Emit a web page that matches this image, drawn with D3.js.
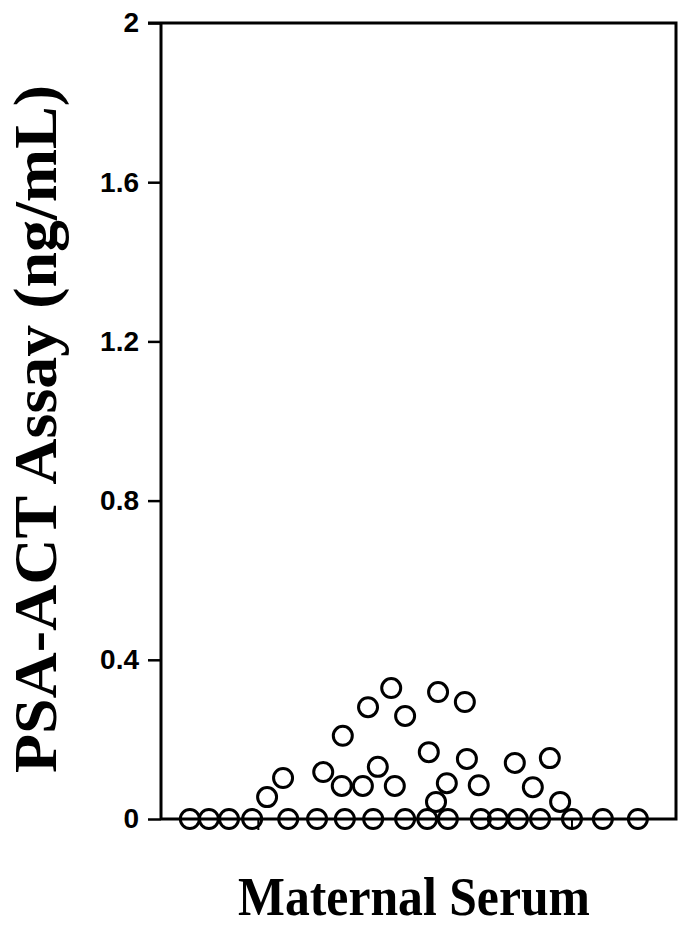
<!DOCTYPE html>
<html lang="en">
<head>
    <meta charset="UTF-8">
    <title>PSA-ACT Assay - Maternal Serum</title>
    <script src="https://cdnjs.cloudflare.com/ajax/libs/d3/7.8.5/d3.min.js"></script>
    <style>
        body { margin: 0; background: white; }
        svg { display: block; }
        .tick-label { font-family: "Liberation Sans", Arial, sans-serif; font-weight: bold; font-size: 28px; }
        .axis-title { font-family: "Liberation Serif", "Times New Roman", serif; font-weight: bold; }
    </style>
</head>
<body>
<div id="chart"></div>
<script>
    // jittered horizontal position (0-100) and PSA-ACT value (ng/mL) for each sample
    const jitter = [5.6, 9.3, 13.2, 17.7, 24.7, 30.3, 35.7, 41.2, 47.4, 51.7, 55.7, 62.1, 65.4, 69.3, 73.6, 79.8, 85.8, 92.6,
        20.6, 23.7, 31.5, 35.1, 35.3, 39.2, 40.2, 42.1, 44.7, 45.4, 47.4,
        53.8, 59.0, 52.0, 59.4, 68.7, 75.5, 55.5, 61.7, 72.2, 53.4, 77.5];
    const psaValues = [0, 0, 0, 0, 0, 0, 0, 0, 0, 0, 0, 0, 0, 0, 0, 0, 0, 0,
        0.055, 0.103, 0.118, 0.083, 0.209, 0.083, 0.281, 0.131, 0.329, 0.083, 0.259,
        0.319, 0.294, 0.168, 0.151, 0.141, 0.153, 0.090, 0.085, 0.080, 0.043, 0.043];
    const yTicks = [0, 0.4, 0.8, 1.2, 1.6, 2];
    const yTickLabels = ['0', '0.4', '0.8', '1.2', '1.6', '2'];
    const xMarks = [18.9, 79.8];   // small category ticks under the baseline
    const groupLabel = 'Maternal Serum';
    const yTitle = 'PSA-ACT Assay (ng/mL)';

    const width = 679, height = 926;
    const margin = {top: 23, right: 3, bottom: 107, left: 161};
    const innerW = width - margin.left - margin.right;
    const innerH = height - margin.top - margin.bottom;

    const svg = d3.select('#chart').append('svg')
        .attr('width', width)
        .attr('height', height);

    const g = svg.append('g').attr('transform', `translate(${margin.left},${margin.top})`);

    const x = d3.scaleLinear().domain([0, 100]).range([0, innerW]);
    const y = d3.scaleLinear().domain([0, 2]).range([innerH, 0]);

    // frame: top, right and baseline
    g.append('path')
        .attr('d', `M${-13},0H${innerW}V${innerH}H0`)
        .attr('fill', 'none')
        .attr('stroke', 'black')
        .attr('stroke-width', 3);

    const yAxis = d3.axisLeft(y)
        .tickValues(yTicks)
        .tickFormat((d, i) => yTickLabels[i])
        .tickSize(13)
        .tickPadding(9);

    const ya = g.append('g').call(yAxis);
    ya.select('.domain').attr('stroke-width', 3).attr('d', `M0,0V${innerH}`);
    ya.selectAll('.tick line').attr('stroke-width', 2.5);
    ya.selectAll('.tick text').attr('class', 'tick-label').attr('fill', 'black');
    ya.attr('font-size', null).attr('font-family', null);

    g.append('g').selectAll('line')
        .data(xMarks)
        .enter().append('line')
        .attr('x1', d => x(d)).attr('x2', d => x(d))
        .attr('y1', innerH).attr('y2', innerH + 11)
        .attr('stroke', 'black')
        .attr('stroke-width', 2);

    g.append('g').selectAll('circle')
        .data(psaValues)
        .enter().append('circle')
        .attr('cx', (d, i) => x(jitter[i]))
        .attr('cy', d => y(d))
        .attr('r', 9.5)
        .attr('fill', 'none')
        .attr('stroke', 'black')
        .attr('stroke-width', 3);

    svg.append('text')
        .attr('class', 'axis-title')
        .attr('x', 414)
        .attr('y', 915)
        .attr('text-anchor', 'middle')
        .attr('font-size', 55)
        .attr('textLength', 352)
        .attr('lengthAdjust', 'spacingAndGlyphs')
        .text(groupLabel);

    svg.append('text')
        .attr('class', 'axis-title')
        .attr('transform', 'translate(56,429) rotate(-90)')
        .attr('text-anchor', 'middle')
        .attr('font-size', 62)
        .attr('textLength', 688)
        .attr('lengthAdjust', 'spacingAndGlyphs')
        .text(yTitle);
</script>
</body>
</html>
